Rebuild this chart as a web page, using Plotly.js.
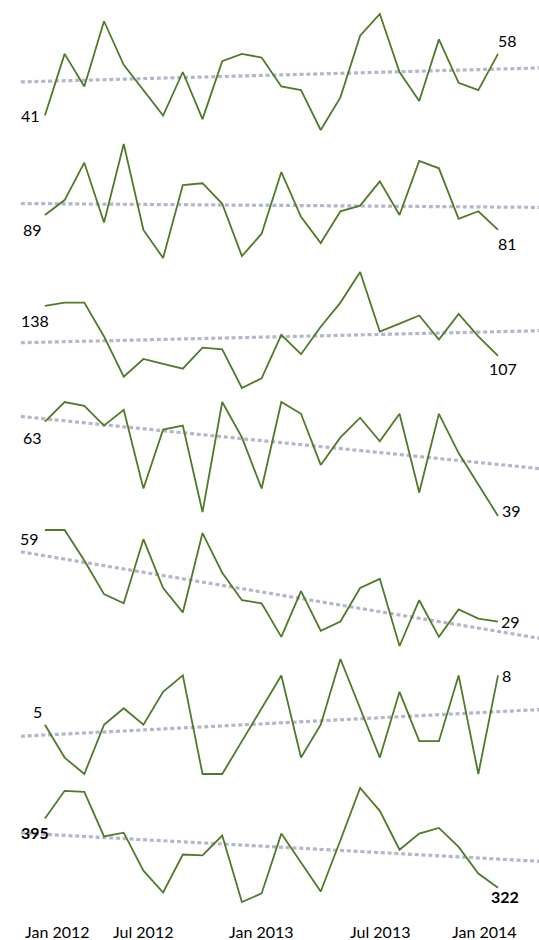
<!DOCTYPE html>
<html>
<head>
<meta charset="utf-8">
<script src="https://cdn.plot.ly/plotly-3.0.1.min.js"></script>
<style>html,body{margin:0;padding:0;background:#fff;}#chart{width:539px;height:940px;}</style>
</head>
<body>
<div id="chart"></div>
<script>
// Months Feb 2012 .. Jan 2014
const months = ['Feb 2012','Mar 2012','Apr 2012','May 2012','Jun 2012','Jul 2012','Aug 2012','Sep 2012','Oct 2012','Nov 2012','Dec 2012',
  'Jan 2013','Feb 2013','Mar 2013','Apr 2013','May 2013','Jun 2013','Jul 2013','Aug 2013','Sep 2013','Oct 2013','Nov 2013','Dec 2013','Jan 2014'];
const tickLabels = ['Jan 2012','Jul 2012','Jan 2013','Jul 2013','Jan 2014'];

const series1 = [41,58,49,67,55,48,41,53,40,56,58,57,49,48,37,46,63,69,53,45,62,50,48,58];
const series2 = [89,97,117,85,127,81,66,105,106,95,67,79,112,88,74,91,94,107,89,118,114,87,91,81];
const series3 = [138,140,140,119,94,105,102,99,112,111,87,93,120,108,125,140,159,122,127,132,117,133,119,107];
const series4 = [63,68,67,62,66,46,61,62,40,68,59,46,68,65,52,59,64,58,65,45,65,55,47,39];
const series5 = [59,59,49,38,35,56,40,32,58,45,36,35,24,39,26,29,40,43,21,36,24,33,30,29];
const series6 = [5,3,2,5,6,5,7,8,2,2,4,6,8,3,5,9,6,3,7,4,4,8,2,8];
const series7 = [395,424,423,376,380,340,317,357,356,377,307,316,379,349,318,372,427,403,362,379,385,365,337,322];

const allSeries = [series1, series2, series3, series4, series5, series6, series7];

// layout (pixels) for each panel: top and bottom of data extent
const W = 539, H = 940;
const panelPx = [[14,130],[144,258],[272,388],[402,516],[530,646],[659,774],[788,902]];
// label placement for first/last value
const labelStyle = [
  [{xa:'right',xs:-3,ys:0},{xa:'left',xs:-2,ys:13}],
  [{xa:'right',xs:-1,ys:-14},{xa:'left',xs:-2,ys:-14}],
  [{xa:'center',xs:-10,ys:-15},{xa:'center',xs:5,ys:-13}],
  [{xa:'right',xs:-1,ys:-16},{xa:'left',xs:2,ys:6}],
  [{xa:'right',xs:-4,ys:-8},{xa:'left',xs:1,ys:0}],
  [{xa:'right',xs:-1,ys:13},{xa:'left',xs:2,ys:0}],
  [{xa:'center',xs:-10,ys:-14},{xa:'center',xs:7,ys:-9}]
];

const lineColor = '#4f7a28';
const trendColor = '#b4b6cb';
const font = 'Lato, "Open Sans", sans-serif';

const x = months.map((m, i) => i);
const xLeft = -1.22, xRight = 25.2;
const xRange = [-2.28, 25.08];

const traces = [];
const annotations = [];
const layout = {
  width: W, height: H,
  margin: {l:0, r:0, t:0, b:0},
  paper_bgcolor: '#fff', plot_bgcolor: 'rgba(0,0,0,0)',
  showlegend: false,
  font: {family: font, size: 16, color: '#000'}
};

allSeries.forEach((s, k) => {
  const n = k + 1;
  const xa = 'x' + (n === 1 ? '' : n), ya = 'y' + (n === 1 ? '' : n);
  // linear trend (least squares)
  const N = s.length;
  const mx = x.reduce((a,b)=>a+b,0)/N, my = s.reduce((a,b)=>a+b,0)/N;
  let sxy = 0, sxx = 0;
  for (let i = 0; i < N; i++) { sxy += (x[i]-mx)*(s[i]-my); sxx += (x[i]-mx)*(x[i]-mx); }
  const b = sxy/sxx, a = my - b*mx;
  traces.push({x:[xLeft, xRight], y:[a+b*xLeft, a+b*xRight], xaxis:xa, yaxis:ya, mode:'lines',
    line:{color:trendColor, width:3.2, dash:'4px,2.8px'}, hoverinfo:'skip'});
  traces.push({x:x, y:s, xaxis:xa, yaxis:ya, mode:'lines', line:{color:lineColor, width:1.8}, hoverinfo:'skip'});

  const mn = Math.min(...s), mxv = Math.max(...s);
  const [tp, bp] = panelPx[k];
  const perPx = (mxv - mn) / (bp - tp);
  layout['xaxis' + (n === 1 ? '' : n)] = {range:xRange, visible:false, fixedrange:true, anchor:ya};
  layout['yaxis' + (n === 1 ? '' : n)] = {
    range:[mn - 2*perPx, mxv + 2*perPx], visible:false, fixedrange:true, anchor:xa,
    domain:[1 - (bp + 2)/H, 1 - (tp - 2)/H]
  };
  const bold = (k === 6);
  const ends = [0, N-1];
  ends.forEach((idx, j) => {
    const st = labelStyle[k][j];
    annotations.push({xref:xa, yref:ya, x:x[idx], y:s[idx],
      text: bold ? '<b>' + s[idx] + '</b>' : String(s[idx]),
      showarrow:false, xanchor:st.xa, yanchor:'middle', xshift:st.xs, yshift:st.ys,
      font:{family:font, size:16, color:'#000'}});
  });
});

// month tick labels placed on the bottom panel's x scale
const monthIndex = lbl => {
  const [mo, yr] = lbl.split(' ');
  const mnum = {Jan:0,Feb:1,Mar:2,Apr:3,May:4,Jun:5,Jul:6,Aug:7,Sep:8,Oct:9,Nov:10,Dec:11}[mo];
  return (parseInt(yr) - 2012) * 12 + mnum - 1;
};
tickLabels.forEach((t, i) => {
  const last = i === tickLabels.length - 1;
  annotations.push({xref:'x7', yref:'paper', x:monthIndex(t), y:1 - 931/H,
    text:t, showarrow:false, xanchor: i === 0 ? 'left' : 'center', yanchor:'middle',
    xshift: i === 0 ? -2 : (last ? -14 : 0),
    font:{family:font, size:16, color:'#000'}});
});
layout.annotations = annotations;

Plotly.newPlot('chart', traces, layout, {staticPlot:true, displayModeBar:false});
</script>
</body>
</html>
